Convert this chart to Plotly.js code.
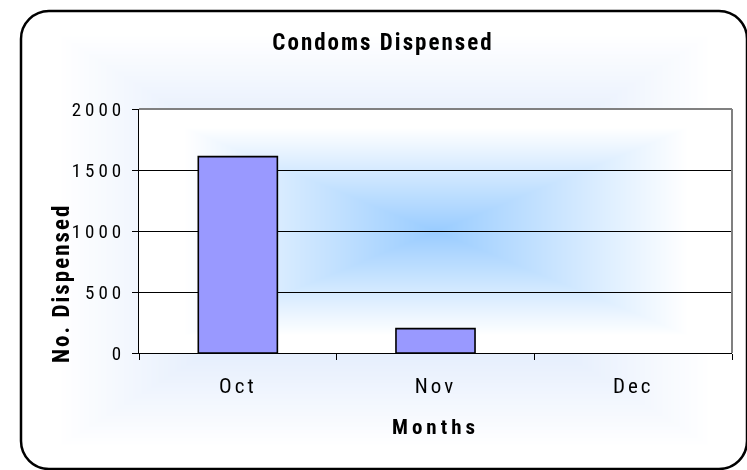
<!DOCTYPE html>
<html><head><meta charset="utf-8">
<script src="https://cdn.plot.ly/plotly-3.0.1.min.js"></script>
<style>
html,body{margin:0;padding:0;background:#fff;overflow:hidden}
#wrap{position:relative;width:747px;height:470px}
#bg{position:absolute;left:0;top:0}
#chart{position:absolute;left:0;top:0;width:747px;height:470px}
#chart .gtitle{letter-spacing:2px}
#chart .xtick text{letter-spacing:3px}
#chart .ytick text{letter-spacing:4px}
#chart .xtitle{letter-spacing:4px}
#chart .annotation-text{letter-spacing:2px}
</style></head>
<body><div id="wrap"><canvas id="bg" width="747" height="470"></canvas><div id="chart"></div></div>
<script>
// ---- data ----
const months = ['Oct', 'Nov', 'Dec'];
const dispensed = [1610, 200, 0];
const yTickVals = [0, 500, 1000, 1500, 2000];
const yTickText = ['0', '500', '1000', '1500', '2000'];
const chartTitle = 'Condoms Dispensed';
const xTitle = 'Months';
const yTitle = 'No. Dispensed';

// ---- layout constants ----
const W = 747, H = 470;
const M = {l: 139, r: 15, t: 109, b: 117};
const FONT = '"Roboto Condensed", "DejaVu Sans Condensed", sans-serif';

// ---- background (chart area + plot area "from centre" gradients) ----
(function drawBg() {
  const cv = document.getElementById('bg');
  const ctx = cv.getContext('2d');
  const img = ctx.createImageData(W, H);
  const bx0 = 21, by0 = 11, bx1 = 747, by1 = 469, rad = 28;
  const ocx = (bx0 + bx1) / 2, ocy = (by0 + by1) / 2, ohw = (bx1 - bx0) / 2, ohh = (by1 - by0) / 2;
  const px0 = M.l, px1 = W - M.r, py0 = M.t, py1 = H - M.b;
  const pcx = (px0 + px1) / 2, pcy = (py0 + py1) / 2, phw = (px1 - px0) / 2, phh = (py1 - py0) / 2;
  const oc = [198, 218, 250];
  const pc = [153, 204, 255];
  for (let y = 0; y < H; y++) {
    for (let x = 0; x < W; x++) {
      let r, g, b;
      if (x >= px0 && x <= px1 && y >= py0 && y <= py1) {
        const t = Math.max(Math.abs(x - pcx) / phw, Math.abs(y - pcy) / phh);
        const f = Math.min(1, t / 0.85);
        r = pc[0] + (255 - pc[0]) * f; g = pc[1] + (255 - pc[1]) * f; b = pc[2] + (255 - pc[2]) * f;
      } else {
        const t = Math.max(Math.abs(x - ocx) / ohw, Math.abs(y - ocy) / ohh);
        const f = Math.min(1, t / 0.9);
        r = oc[0] + (255 - oc[0]) * f; g = oc[1] + (255 - oc[1]) * f; b = oc[2] + (255 - oc[2]) * f;
      }
      const i = (y * W + x) * 4;
      img.data[i] = r; img.data[i + 1] = g; img.data[i + 2] = b; img.data[i + 3] = 255;
    }
  }
  ctx.putImageData(img, 0, 0);
  function rr() {
    ctx.moveTo(bx0 + rad, by0);
    ctx.lineTo(bx1 - rad, by0);
    ctx.arcTo(bx1, by0, bx1, by0 + rad, rad);
    ctx.lineTo(bx1, by1 - rad);
    ctx.arcTo(bx1, by1, bx1 - rad, by1, rad);
    ctx.lineTo(bx0 + rad, by1);
    ctx.arcTo(bx0, by1, bx0, by1 - rad, rad);
    ctx.lineTo(bx0, by0 + rad);
    ctx.arcTo(bx0, by0, bx0 + rad, by0, rad);
    ctx.closePath();
  }
  ctx.fillStyle = '#fff';
  ctx.beginPath(); ctx.rect(0, 0, W, H); rr(); ctx.fill('evenodd');
  ctx.strokeStyle = '#000'; ctx.lineWidth = 2.5;
  ctx.beginPath(); rr(); ctx.stroke();
})();

// ---- chart ----
const trace = {
  type: 'bar',
  x: months,
  y: dispensed,
  marker: {color: '#9999ff', line: {color: '#000', width: dispensed.map(v => (v > 0 ? 1.6 : 0))}},
  hoverinfo: 'x+y'
};

const layout = {
  width: W, height: H,
  margin: M,
  paper_bgcolor: 'rgba(0,0,0,0)',
  plot_bgcolor: 'rgba(0,0,0,0)',
  showlegend: false,
  bargap: 0.6,
  font: {family: FONT, color: '#000'},
  title: {
    text: chartTitle,
    font: {family: FONT, size: 23, color: '#000', weight: 'bold'},
    x: 383 / W, xref: 'container', xanchor: 'center',
    y: 1 - 42 / H, yref: 'container', yanchor: 'middle'
  },
  xaxis: {
    type: 'category',
    showline: true, linecolor: '#000', linewidth: 1,
    ticks: 'outside', tickson: 'boundaries', ticklen: 6, tickcolor: '#000', tickwidth: 1,
    tickfont: {family: FONT, size: 21, color: '#000'},
    ticklabelstandoff: 14,
    showgrid: false, zeroline: false,
    title: {text: xTitle, font: {family: FONT, size: 21, color: '#000', weight: 'bold'}, standoff: 22},
    fixedrange: true
  },
  yaxis: {
    range: [0, 2000],
    tickvals: yTickVals, ticktext: yTickText,
    showline: true, linecolor: '#000', linewidth: 1,
    ticks: 'outside', ticklen: 6, tickcolor: '#000', tickwidth: 1,
    tickfont: {family: FONT, size: 19, color: '#000'},
    ticklabelstandoff: 3,
    showgrid: true, gridcolor: '#000', gridwidth: 1,
    zeroline: false,
    fixedrange: true
  },
  shapes: [
    {type: 'line', xref: 'paper', yref: 'paper', x0: 0, x1: 1, y0: 1, y1: 1, line: {color: '#808080', width: 2}, layer: 'above'},
    {type: 'line', xref: 'paper', yref: 'paper', x0: 1, x1: 1, y0: 0, y1: 1, line: {color: '#808080', width: 2}, layer: 'above'}
  ],
  annotations: [{
    text: yTitle,
    xref: 'paper', yref: 'paper', x: 0, y: (H - M.b - 284) / (H - M.t - M.b),
    xanchor: 'center', yanchor: 'middle', xshift: -78,
    textangle: -90, showarrow: false,
    font: {family: FONT, size: 23, color: '#000', weight: 'bold'}
  }]
};

Plotly.newPlot('chart', [trace], layout, {displayModeBar: false});
</script>
</body></html>
